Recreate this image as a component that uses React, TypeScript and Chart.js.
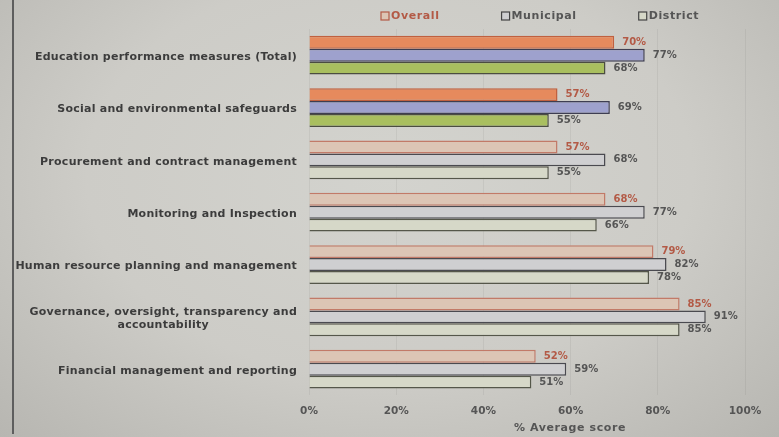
import React, { useEffect, useRef } from "react";
import { Chart, registerables } from "chart.js";

Chart.register(...registerables);

const categories: (string | string[])[] = [
  "Education performance measures (Total)",
  "Social and environmental safeguards",
  "Procurement and contract management",
  "Monitoring and Inspection",
  "Human resource planning and management",
  ["Governance, oversight, transparency and", "accountability"],
  "Financial management and reporting",
];
const seriesNames = ["Overall", "Municipal", "District"];
const overall = [70, 57, 57, 68, 79, 85, 52];
const municipal = [77, 69, 68, 77, 82, 91, 59];
const district = [68, 55, 55, 66, 78, 85, 51];
const xTicks = [0, 20, 40, 60, 80, 100];
const axisTitle = "% Average score";
const solidRows = 2;

const solidFill = ["#e68a5d", "#9ea1cd", "#a9bf5f"];
const lightFill = ["#dcc5b5", "#cfcfd1", "#d6d8c8"];
const solidBorder = ["#c0603f", "#3e3e52", "#4b4d40"];
const lightBorder = ["#c27a68", "#4a4a50", "#55574a"];
const labelColors = ["#b35a46", "#555555", "#555555"];

const FONT = "'DejaVu Sans', sans-serif";

const customPlugin = {
  id: "custom",
  afterDraw(chart: any) {
    const ctx = chart.ctx;
    const yScale = chart.scales.y;
    const area = chart.chartArea;
    ctx.save();
    // category labels
    ctx.font = `bold 11px ${FONT}`;
    (ctx as any).letterSpacing = "0.25px";
    ctx.fillStyle = "#3c3c3c";
    ctx.textBaseline = "middle";
    categories.forEach((c, i) => {
      const lines = Array.isArray(c) ? c : [c];
      const y = yScale.getPixelForValue(i);
      const w = Math.max(...lines.map((l) => ctx.measureText(l).width));
      const cx = area.left - 12 - w / 2;
      const lh = 13;
      lines.forEach((l, j) => {
        ctx.textAlign = "center";
        ctx.fillText(l, cx, y + 2 + (j - (lines.length - 1) / 2) * lh);
      });
    });
    // data labels
    ctx.font = `bold 10px ${FONT}`;
    (ctx as any).letterSpacing = "0px";
    ctx.textAlign = "left";
    chart.data.datasets.forEach((ds: any, di: number) => {
      const meta = chart.getDatasetMeta(di);
      ctx.fillStyle = labelColors[di];
      meta.data.forEach((bar: any, i: number) => {
        ctx.fillText(ds.data[i] + "%", bar.x + 8, bar.y);
      });
    });
    // axis title
    ctx.font = `bold 11px ${FONT}`;
    (ctx as any).letterSpacing = "0.6px";
    ctx.fillStyle = "#555";
    ctx.textAlign = "center";
    ctx.fillText(axisTitle, (area.left + area.right) / 2 + 43, 428);
    // legend
    ctx.font = `bold 11px ${FONT}`;
    (ctx as any).letterSpacing = "0.6px";
    let x = area.left + 72;
    const ly = 16;
    seriesNames.forEach((n, i) => {
      ctx.fillStyle = lightFill[i];
      ctx.fillRect(x, ly - 4, 8, 8);
      ctx.strokeStyle = i === 0 ? "#b35a46" : "#444";
      ctx.lineWidth = 1.2;
      ctx.strokeRect(x, ly - 4, 8, 8);
      ctx.fillStyle = labelColors[i];
      ctx.textAlign = "left";
      ctx.fillText(n, x + 10, ly);
      x += 10 + ctx.measureText(n).width + 62;
    });
    ctx.restore();
  },
};

export default function App() {
  const ref = useRef<HTMLCanvasElement>(null);
  useEffect(() => {
    const series = [overall, municipal, district];
    const chart = new Chart(ref.current!, {
      type: "bar",
      data: {
        labels: categories.map((_, i) => String(i)),
        datasets: series.map((d, si) => ({
          label: seriesNames[si],
          data: d,
          backgroundColor: d.map((_, i) => (i < solidRows ? solidFill[si] : lightFill[si])),
          borderColor: d.map((_, i) => (i < solidRows ? solidBorder[si] : lightBorder[si])),
          borderWidth: 1.5,
          categoryPercentage: 0.74,
          barPercentage: 1,
        })),
      },
      options: {
        indexAxis: "y",
        animation: false,
        responsive: false,
        layout: { padding: { top: 29, right: 34, left: 0, bottom: 9 } },
        plugins: { legend: { display: false }, tooltip: { enabled: false } },
        scales: {
          x: {
            min: 0,
            max: 100,
            afterBuildTicks: (s: any) => {
              s.ticks = xTicks.map((v) => ({ value: v }));
            },
            ticks: {
              callback: (v: any) => v + "%",
              color: "#555",
              font: { family: FONT, size: 10.5, weight: "bold" },
              padding: 10,
            },
            grid: { color: "rgba(0,0,0,0.05)", drawTicks: false },
            border: { display: false },
          },
          y: {
            ticks: { display: false },
            grid: { display: false },
            border: { display: false },
            afterFit: (s: any) => {
              s.width = 309;
            },
          },
        },
      },
      plugins: [customPlugin],
    } as any);
    return () => chart.destroy();
  }, []);
  return (
    <div
      style={{
        position: "fixed",
        left: 0,
        top: 0,
        width: 779,
        height: 437,
        background: "radial-gradient(ellipse at 50% 40%, #d3d3ce 0%, #cdccc7 55%, #b7b6b1 100%)",
      }}
    >
      <div style={{ position: "absolute", left: 12, top: 0, width: 2, height: 434, background: "#5e5e5e" }} />
      <canvas ref={ref} width={779} height={437} style={{ position: "absolute", left: 0, top: 0 }} />
    </div>
  );
}
